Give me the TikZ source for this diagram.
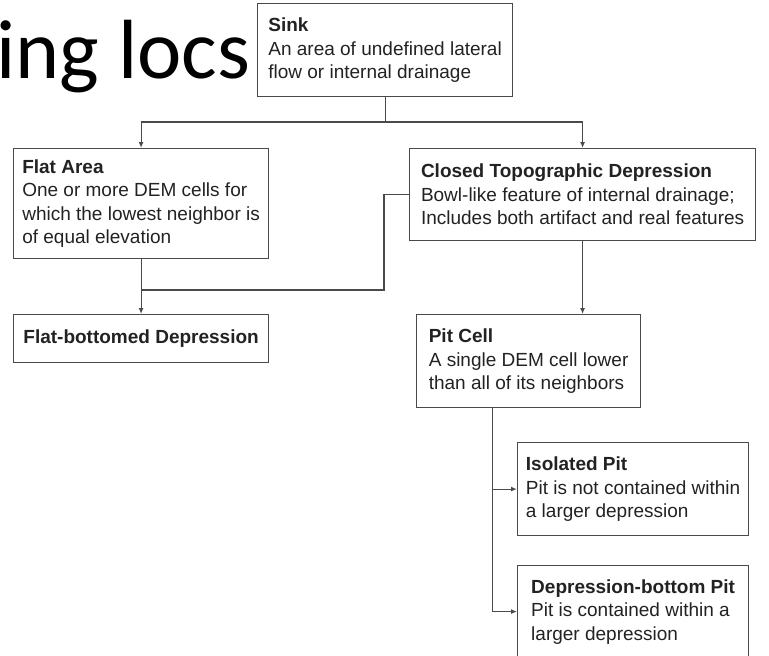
\documentclass[tikz,border=0pt]{standalone}
\usepackage{fontspec}
\setmainfont{Liberation Sans}
\newfontfamily\slidefont{Carlito}
\usetikzlibrary{arrows.meta}

\definecolor{linegray}{HTML}{4A4A4A}
\definecolor{textgray}{HTML}{222222}
\tikzset{
	box/.style={draw=linegray, line width=1.2pt, anchor=north west, align=left, inner sep=0pt, text=textgray, font=\fontsize{19}{23.5}\selectfont},
	link/.style={draw=linegray, line width=1.2pt},
	arr/.style={link, -{Latex[length=6pt,width=5pt]}}
}

\begin{document}
\begin{tikzpicture}[x=1pt,y=-1pt]
			\useasboundingbox (0,0) rectangle (769,656);
			\node[anchor=base west, inner sep=0pt, font=\slidefont\fontsize{84}{84}\selectfont] (title) at (-4,78) {ing locs};
			\node[box, minimum width=255pt, minimum height=93pt] (sink) at (257,3) {\textbf{Sink}\\An area of undefined lateral\\flow or internal drainage};
			\node[box, minimum width=255pt, minimum height=110pt] (flat) at (13,148) {\textbf{Flat Area}\\One or more DEM cells for\\which the lowest neighbor is\\of equal elevation};
			\node[box, minimum width=346pt, minimum height=92pt] (closed) at (409,148) {\textbf{Closed Topographic Depression}\\Bowl-like feature of internal drainage;\\Includes both artifact and real features};
			\node[box, minimum width=255pt, minimum height=48pt] (flatbot) at (13,314) {\textbf{Flat-bottomed Depression}};
			\node[box, minimum width=224pt, minimum height=93pt] (pit) at (416,314) {\textbf{Pit Cell}\\A single DEM cell lower\\than all of its neighbors};
			\node[box, minimum width=231pt, minimum height=93pt] (iso) at (517,442) {\textbf{Isolated Pit}\\Pit is not contained within\\a larger depression};
			\node[box, minimum width=231pt, minimum height=92pt] (deppit) at (517,565) {\textbf{Depression-bottom Pit}\\Pit is contained within a\\larger depression};
			\coordinate (row) at (0,122);
			\coordinate (low) at (0,290);
			\draw[link] (sink.south) -- (sink.south |- row) coordinate (split);
			\draw[arr] (split) -| (flat.north);
			\draw[arr] (split) -| (closed.north);
			\draw[arr] (flat.south) -- (flatbot.north);
			\draw[link] (closed.west) -| ([xshift=-25pt]closed.west |- low) -- (flat.south |- low);
			\draw[arr] (closed.south) -- (closed.south |- pit.north);
			\draw[arr] ([xshift=-36pt]pit.south) |- (iso.west);
			\draw[arr] ([xshift=-36pt]pit.south) |- (deppit.west);
\end{tikzpicture}
\end{document}
